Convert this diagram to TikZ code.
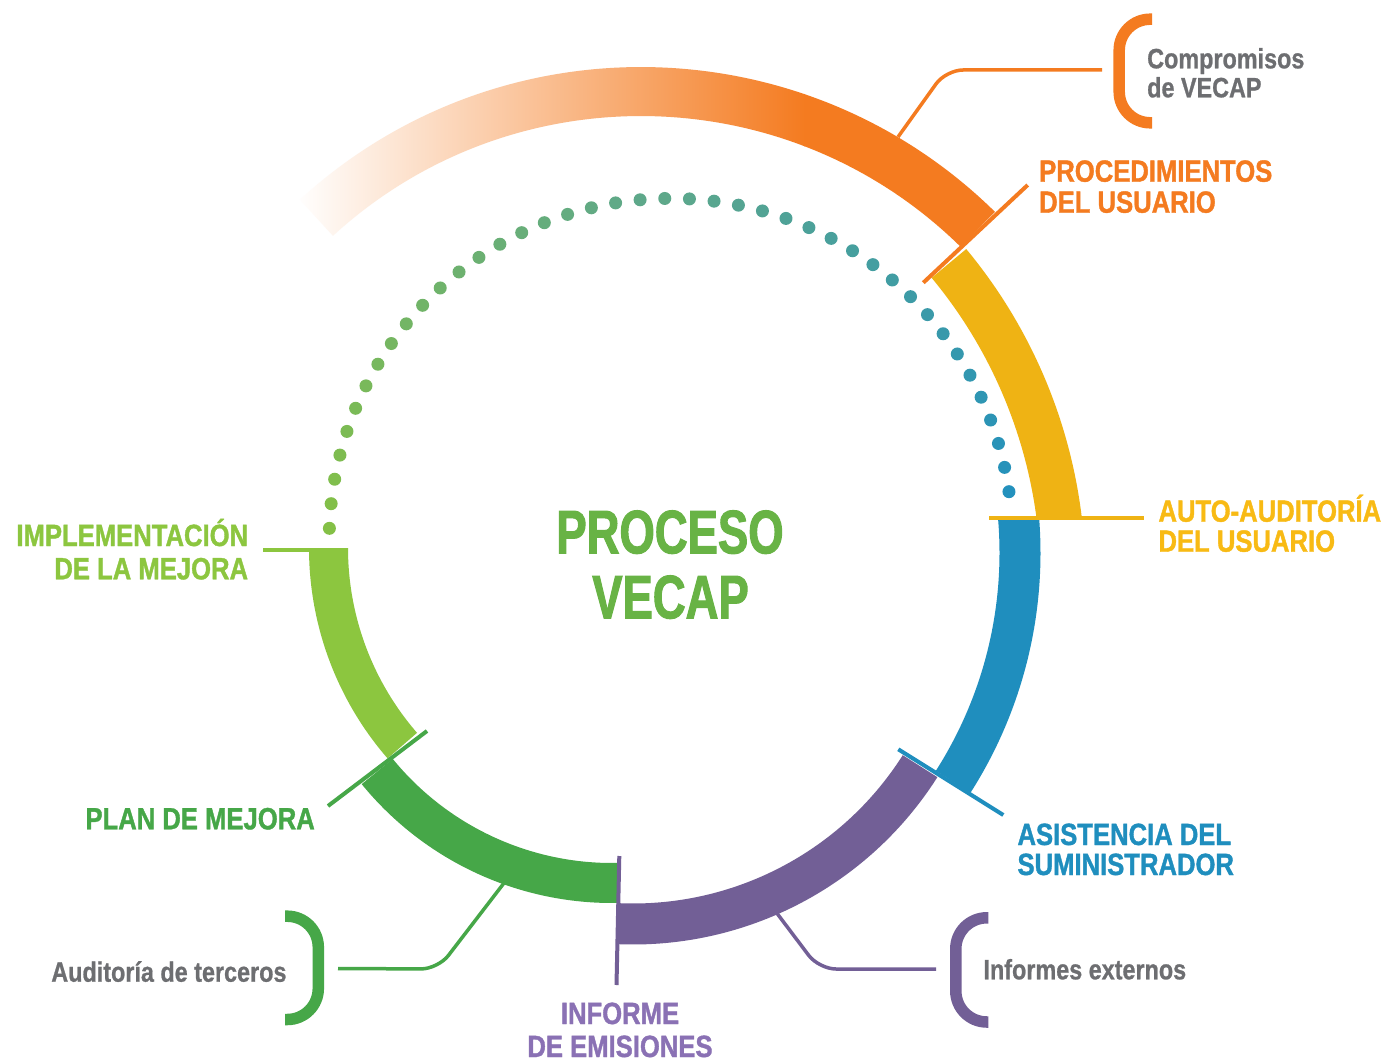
\documentclass[tikz,border=0pt]{standalone}
\usepackage{fontspec}
\setmainfont{Liberation Sans}
\newfontfamily\labelfont[FakeStretch=0.835,FakeBold=1.2]{Liberation Sans}
\newfontfamily\notefont[FakeStretch=0.835,FakeBold=0.8]{Liberation Sans}
\newfontfamily\titlefont[FakeStretch=0.74,FakeBold=1.6]{Liberation Sans}
\usetikzlibrary{calc}
\definecolor{corange}{HTML}{F47B20}
\definecolor{cyellow}{HTML}{EFB314}
\definecolor{cyellowtext}{HTML}{F8BA14}
\definecolor{cblue}{HTML}{1F8EBE}
\definecolor{cpurple}{HTML}{725F96}
\definecolor{cpurpletext}{HTML}{8A71B4}
\definecolor{cgreen}{HTML}{46A748}
\definecolor{clgreen}{HTML}{8CC63F}
\definecolor{ctitle}{HTML}{68B345}
\definecolor{cgray}{HTML}{6D6E71}
\definecolor{dotA}{HTML}{84C046}
\definecolor{dotB}{HTML}{5EA88A}
\definecolor{dotC}{HTML}{2391BD}
\begin{document}
\begin{tikzpicture}[x=1pt,y=-1pt,
  lbl/.style={inner sep=0pt, font=\labelfont\bfseries\fontsize{30.7}{30.7}\selectfont},
  note/.style={inner sep=0pt, text=cgray, font=\notefont\bfseries\fontsize{28}{28}\selectfont},
  ttl/.style={inner sep=0pt, text=ctitle, font=\titlefont\bfseries\fontsize{61.4}{61.4}\selectfont},
  tick/.style={line width=4pt},
  conn/.style={line width=3.5pt, rounded corners=17pt},
  brk/.style={line width=11.5pt, rounded corners=31pt}]
\fill[white] (0,0) rectangle (1387,1062);
\useasboundingbox (0,0) rectangle (1387,1062);

% centres of the arc pieces
\coordinate (cLG) at (630,548);
\coordinate (cG) at (612,580);
\coordinate (cP) at (633,584);
\coordinate (cB) at (595,553);
\coordinate (cY) at (568.5,579.3);
\coordinate (cO) at (641,572);
\coordinate (cD) at (670.8,540);

% dotted arc
\foreach \i in {0,...,41}{
  \pgfmathsetmacro\ang{-178.04+\i*4.1441}
  \ifnum\i<21
    \pgfmathtruncatemacro\p{100-\i*5}
    \colorlet{dotc}{dotA!\p!dotB}
  \else
    \pgfmathtruncatemacro\p{100-(\i-21)*5}
    \colorlet{dotc}{dotB!\p!dotC}
  \fi
  \fill[dotc] ($(cD)+(\ang:341.6)$) circle[radius=6.5pt];
}

% orange (fading)
\begin{scope}
\clip ($(cO)+(-132.5:505)$) arc[start angle=-132.5,end angle=-45.5,radius=505]
  -- ($(cO)+(-45.5:456)$) arc[start angle=-45.5,end angle=-132.5,radius=456] -- cycle;
\shade[left color=white, right color=corange] (295,40) rectangle (805,260);
\fill[corange] (804,40) rectangle (1010,260);
\end{scope}

% yellow
\begin{scope}
\clip (900,150) rectangle (1100,518);
\fill[cyellow] ($(cY)+(-39.7:517)$) arc[start angle=-39.7,end angle=-4,radius=517]
  -- ($(cY)+(-4:472)$) arc[start angle=-4,end angle=-39.7,radius=472] -- cycle;
\end{scope}

% blue
\begin{scope}
\clip (850,518) rectangle (1100,850);
\fill[cblue] ($(cB)+(-8:445.5)$) arc[start angle=-8,end angle=32.57,radius=445.5]
  -- ($(cB)+(32.57:404.5)$) arc[start angle=32.57,end angle=-8,radius=404.5] -- cycle;
\end{scope}

% purple
\fill[cpurple] ($(cP)+(32.4:360.5)$) arc[start angle=32.4,end angle=92.5,radius=360.5]
  -- ($(cP)+(92.5:319.5)$) arc[start angle=92.5,end angle=32.4,radius=319.5] -- cycle;

% green
\fill[cgreen] ($(cG)+(88.9:323)$) arc[start angle=88.9,end angle=140.8,radius=323]
  -- ($(cG)+(140.8:283)$) arc[start angle=140.8,end angle=88.9,radius=283] -- cycle;

% light green
\fill[clgreen] ($(cLG)+(139.05:321)$) arc[start angle=139.05,end angle=180,radius=321]
  -- ($(cLG)+(180:282)$) arc[start angle=180,end angle=139.05,radius=282] -- cycle;

% ticks between pieces
\draw[tick,corange] (1027.7,185) -- (923.3,282.7);
\draw[tick,cyellow] (989,518.4) -- (1144,518.4);
\draw[tick,cblue] (898.3,749.3) -- (1003.3,815);
\draw[tick,cpurple] (619.3,856) -- (616.5,985);
\draw[tick,cgreen] (427,731) -- (328,806);
\draw[tick,clgreen] (263,549.7) -- (330,549.7);

% brackets
\coordinate (bO1) at (1152,19.2);  \coordinate (bO2) at (1152,122.8);
\coordinate (bG1) at (285,916.2);  \coordinate (bG2) at (285,1019.5);
\coordinate (bP1) at (988.3,917.8); \coordinate (bP2) at (988.3,1022);
\draw[brk,corange] (bO1) -- (1119.2,19.2) -- (1119.2,122.8) -- (bO2);
\draw[brk,cgreen] (bG1) -- (318.3,916.2) -- (318.3,1019.5) -- (bG2);
\draw[brk,cpurple] (bP1) -- (955.8,917.8) -- (955.8,1022) -- (bP2);

% connectors
\coordinate (kO1) at (898,137);  \coordinate (kO2) at (1102,70);
\coordinate (kG1) at (504,883);  \coordinate (kG2) at (338,968.5);
\coordinate (kP1) at (776,912);  \coordinate (kP2) at (936,969);
\draw[conn,corange] (kO1) -- (946,70) -- (kO2);
\draw[conn,cgreen] (kG1) -- (438,969) -- (kG2);
\draw[conn,cpurple] (kP1) -- (819,969) -- (kP2);

% title
\node[ttl, anchor=base] (t1) at (670,553.3) {PROCESO};
\node[ttl, anchor=base] (t2) at (670.5,618.3) {VECAP};

% labels
\node[lbl, text=corange, anchor=base west] (proc1) at (1039,181.7) {PROCEDIMIENTOS};
\node[lbl, text=corange, anchor=base west] (proc2) at (1039,212.7) {DEL USUARIO};
\node[lbl, text=cyellowtext, anchor=base west] (auto1) at (1158.3,521.7) {AUTO-AUDITORÍA};
\node[lbl, text=cyellowtext, anchor=base west] (auto2) at (1158.3,551.7) {DEL USUARIO};
\node[lbl, text=cblue, anchor=base west] (asis1) at (1017.3,845) {ASISTENCIA DEL};
\node[lbl, text=cblue, anchor=base west] (asis2) at (1017.3,875) {SUMINISTRADOR};
\node[lbl, text=cpurpletext, anchor=base] (inf1) at (620,1024) {INFORME};
\node[lbl, text=cpurpletext, anchor=base] (inf2) at (620,1057) {DE EMISIONES};
\node[lbl, text=cgreen, anchor=base east] (plan) at (315,829.3) {PLAN DE MEJORA};
\node[lbl, text=clgreen, anchor=base east] (impl1) at (248.3,546) {IMPLEMENTACIÓN};
\node[lbl, text=clgreen, anchor=base east] (impl2) at (248.3,579.3) {DE LA MEJORA};

% gray notes
\node[note, anchor=base west] (comp1) at (1147,68.3) {Compromisos};
\node[note, anchor=base west] (comp2) at (1147,97.3) {de VECAP};
\node[note, anchor=base west] (infx) at (983.3,979.3) {Informes externos};
\node[note, anchor=base east] (audt) at (286.7,981.7) {Auditoría de terceros};
\end{tikzpicture}
\end{document}
